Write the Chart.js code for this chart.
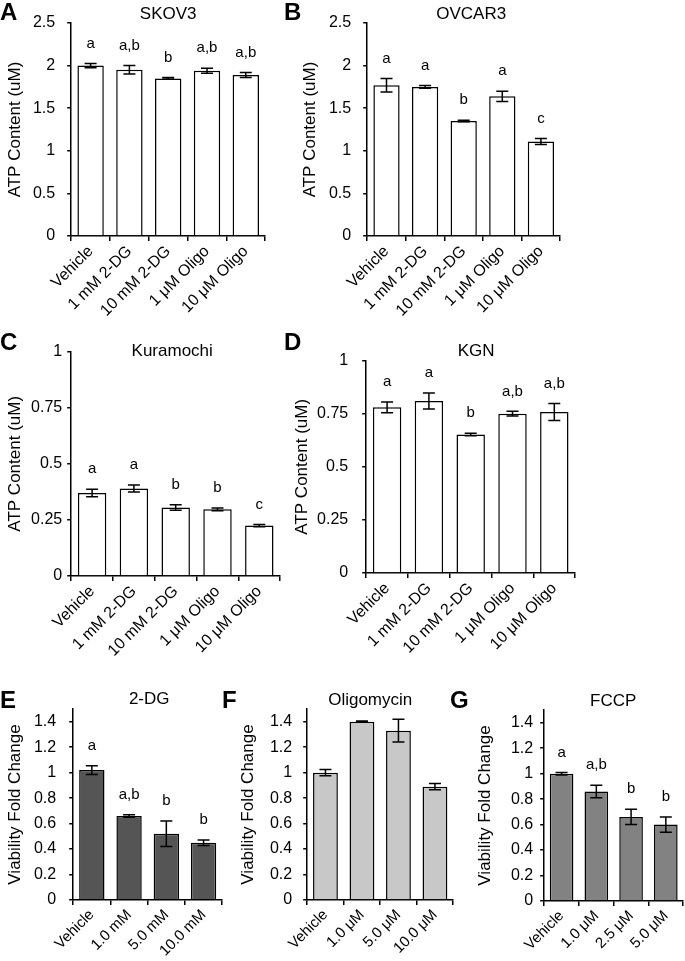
<!DOCTYPE html>
<html>
<head>
<meta charset="utf-8">
<script src="https://cdn.jsdelivr.net/npm/chart.js@4.4.1/dist/chart.umd.min.js"></script>
<style>
body { margin: 0; background: #fff; width: 685px; height: 961px; position: relative; overflow: hidden; font-family: "Liberation Sans", Arial, sans-serif; }
.panel { position: absolute; }
.tag { position: absolute; font-weight: bold; font-size: 24px; line-height: 1; color: #000; }
</style>
</head>
<body>
<div class="panel" id="pA"><canvas id="cA"></canvas></div>
<div class="panel" id="pB"><canvas id="cB"></canvas></div>
<div class="panel" id="pC"><canvas id="cC"></canvas></div>
<div class="panel" id="pD"><canvas id="cD"></canvas></div>
<div class="panel" id="pE"><canvas id="cE"></canvas></div>
<div class="panel" id="pF"><canvas id="cF"></canvas></div>
<div class="panel" id="pG"><canvas id="cG"></canvas></div>
<div class="tag" style="left:0px;top:0px">A</div>
<div class="tag" style="left:284px;top:0px">B</div>
<div class="tag" style="left:0px;top:330px">C</div>
<div class="tag" style="left:284px;top:330px">D</div>
<div class="tag" style="left:0px;top:688px">E</div>
<div class="tag" style="left:222px;top:688px">F</div>
<div class="tag" style="left:450px;top:688px">G</div>
<script>
// ATP content panels (A-D)
const atpLabels = ['Vehicle', '1 mM 2-DG', '10 mM 2-DG', '1 μM Oligo', '10 μM Oligo'];
const atpTicksHigh = [0, 0.5, 1, 1.5, 2, 2.5];
const atpTicksLow = [0, 0.25, 0.5, 0.75, 1];

const skov3Values = [2.00, 1.95, 1.85, 1.94, 1.89];
const skov3Errors = [0.025, 0.05, 0.01, 0.03, 0.03];
const skov3Letters = ['a', 'a,b', 'b', 'a,b', 'a,b'];

const ovcar3Values = [1.77, 1.75, 1.35, 1.64, 1.11];
const ovcar3Errors = [0.08, 0.015, 0.01, 0.06, 0.035];
const ovcar3Letters = ['a', 'a', 'b', 'a', 'c'];

const kuraValues = [0.37, 0.39, 0.305, 0.297, 0.225];
const kuraErrors = [0.017, 0.016, 0.012, 0.006, 0.005];
const kuraLetters = ['a', 'a', 'b', 'b', 'c'];

const kgnValues = [0.78, 0.81, 0.652, 0.75, 0.758];
const kgnErrors = [0.025, 0.038, 0.006, 0.011, 0.04];
const kgnLetters = ['a', 'a', 'b', 'a,b', 'a,b'];

// viability panels (E-G)
const viaTicks = [0, 0.2, 0.4, 0.6, 0.8, 1, 1.2, 1.4];

const dgLabels = ['Vehicle', '1.0 mM', '5.0 mM', '10.0 mM'];
const dgValues = [1.02, 0.66, 0.52, 0.45];
const dgErrors = [0.035, 0.01, 0.1, 0.022];
const dgLetters = ['a', 'a,b', 'b', 'b'];

const oligoLabels = ['Vehicle', '1.0 μM', '5.0 μM', '10.0 μM'];
const oligoValues = [1.0, 1.40, 1.33, 0.89];
const oligoErrors = [0.025, 0.005, 0.09, 0.025];
const oligoLetters = ['', '', '', ''];

const fccpLabels = ['Vehicle', '1.0 μM', '2.5 μM', '5.0 μM'];
const fccpValues = [1.0, 0.86, 0.66, 0.60];
const fccpErrors = [0.01, 0.05, 0.06, 0.06];
const fccpLetters = ['a', 'a,b', 'b', 'b'];

Chart.defaults.font.family = '"Liberation Sans", Arial, sans-serif';
Chart.defaults.color = '#000';

// error bars + significance letters, drawn with the chart's own scales
const errorBars = {
  id: 'errorBars',
  afterDatasetsDraw(chart, args, opts) {
    const ctx = chart.ctx;
    const y = chart.scales.y;
    const meta = chart.getDatasetMeta(0);
    ctx.save();
    ctx.strokeStyle = '#000';
    ctx.lineWidth = 1.5;
    meta.data.forEach((bar, i) => {
      const v = opts.values[i], e = opts.errors[i];
      const top = y.getPixelForValue(v + e);
      const bot = y.getPixelForValue(v - e);
      ctx.beginPath();
      ctx.moveTo(bar.x, top); ctx.lineTo(bar.x, bot);
      ctx.moveTo(bar.x - 6, top); ctx.lineTo(bar.x + 6, top);
      ctx.moveTo(bar.x - 6, bot); ctx.lineTo(bar.x + 6, bot);
      ctx.stroke();
      if (opts.letters[i]) {
        ctx.fillStyle = '#000';
        ctx.font = '15px "Liberation Sans", Arial, sans-serif';
        ctx.textAlign = 'center';
        ctx.textBaseline = 'middle';
        ctx.fillText(opts.letters[i], bar.x, top - 20);
      }
    });
    ctx.restore();
  }
};

const panelTitle = {
  id: 'panelTitle',
  afterDraw(chart, args, opts) {
    const ctx = chart.ctx;
    ctx.save();
    ctx.fillStyle = '#000';
    ctx.font = '17px "Liberation Sans", Arial, sans-serif';
    ctx.textAlign = 'center';
    ctx.textBaseline = 'middle';
    ctx.fillText(opts.text, opts.x, opts.y);
    ctx.restore();
  }
};

function makePanel(p) {
  const yW = p.left - p.yTitleX + 10.2;
  const divLeft = p.left - yW;
  const divTop = p.titleY - 14;
  const padTop = p.top - divTop;
  const xH = 100;
  const div = document.getElementById(p.div);
  div.style.left = divLeft + 'px';
  div.style.top = divTop + 'px';
  div.style.width = (p.right - divLeft + 1) + 'px';
  div.style.height = (padTop + (p.bottom - p.top) + xH) + 'px';

  new Chart(document.getElementById(p.canvas), {
    type: 'bar',
    data: {
      labels: p.labels,
      datasets: [{
        data: p.values,
        backgroundColor: p.color,
        borderColor: '#000',
        borderWidth: 1.5,
        barPercentage: 0.68,
        categoryPercentage: 1
      }]
    },
    options: {
      responsive: true,
      maintainAspectRatio: false,
      animation: false,
      layout: { padding: { top: padTop, right: 1, left: 0, bottom: 0 } },
      plugins: {
        legend: { display: false },
        tooltip: { enabled: false },
        errorBars: { values: p.values, errors: p.errors, letters: p.letters },
        panelTitle: { text: p.title, x: p.titleX - divLeft, y: p.titleY - divTop }
      },
      scales: {
        x: {
          grid: { offset: true, drawOnChartArea: false, drawTicks: true, tickLength: 5, color: '#000', lineWidth: 1.5 },
          border: { display: true, color: '#000', width: 1.5 },
          ticks: { maxRotation: 45, minRotation: 45, autoSkip: false, font: { size: p.xFont }, color: '#000', padding: 1 },
          afterFit(s) { s.height = xH; s.paddingLeft = 0; s.paddingRight = 0; }
        },
        y: {
          min: 0,
          max: p.yMax,
          ticks: {
            font: { size: 16 },
            color: '#000',
            padding: p.tickPad,
            callback: v => String(+v.toFixed(2))
          },
          afterBuildTicks(s) { s.ticks = p.yTicks.map(v => ({ value: v })); },
          grid: { drawOnChartArea: false, drawTicks: true, tickLength: 4, color: '#000', lineWidth: 1.5 },
          border: { display: true, color: '#000', width: 1.5 },
          title: { display: true, text: p.yTitle, font: { size: 17 }, color: '#000', padding: 0 },
          afterFit(s) { s.width = yW; }
        }
      }
    },
    plugins: [errorBars, panelTitle]
  });
}

const atpTitle = 'ATP Content (uM)';
const viaTitle = 'Viability Fold Change';

makePanel({ div: 'pA', canvas: 'cA', left: 71, right: 265, top: 23, bottom: 236, yTitleX: 15, titleX: 168, titleY: 14, tickPad: 12, xFont: 16,
  yMax: 2.5, yTicks: atpTicksHigh, color: '#fff', labels: atpLabels, values: skov3Values, errors: skov3Errors, letters: skov3Letters, title: 'SKOV3', yTitle: atpTitle });
makePanel({ div: 'pB', canvas: 'cB', left: 367, right: 560, top: 23, bottom: 236, yTitleX: 310, titleX: 471, titleY: 14, tickPad: 12, xFont: 16,
  yMax: 2.5, yTicks: atpTicksHigh, color: '#fff', labels: atpLabels, values: ovcar3Values, errors: ovcar3Errors, letters: ovcar3Letters, title: 'OVCAR3', yTitle: atpTitle });
makePanel({ div: 'pC', canvas: 'cC', left: 71, right: 280, top: 349, bottom: 576, yTitleX: 15, titleX: 172, titleY: 351, tickPad: 5, xFont: 16,
  yMax: 1, yTicks: atpTicksLow, color: '#fff', labels: atpLabels, values: kuraValues, errors: kuraErrors, letters: kuraLetters, title: 'Kuramochi', yTitle: atpTitle });
makePanel({ div: 'pD', canvas: 'cD', left: 366, right: 575, top: 349, bottom: 573, yTitleX: 302, titleX: 476, titleY: 351, tickPad: 14, xFont: 16,
  yMax: 1, yTicks: atpTicksLow, color: '#fff', labels: atpLabels, values: kgnValues, errors: kgnErrors, letters: kgnLetters, title: 'KGN', yTitle: atpTitle });
makePanel({ div: 'pE', canvas: 'cE', left: 73, right: 222, top: 709, bottom: 900, yTitleX: 15, titleX: 149, titleY: 699, tickPad: 13, xFont: 15,
  yMax: 1.5, yTicks: viaTicks, color: '#555555', labels: dgLabels, values: dgValues, errors: dgErrors, letters: dgLetters, title: '2-DG', yTitle: viaTitle });
makePanel({ div: 'pF', canvas: 'cF', left: 307, right: 453, top: 709, bottom: 900, yTitleX: 248, titleX: 370, titleY: 700, tickPad: 11, xFont: 15,
  yMax: 1.5, yTicks: viaTicks, color: '#c8c8c8', labels: oligoLabels, values: oligoValues, errors: oligoErrors, letters: oligoLetters, title: 'Oligomycin', yTitle: viaTitle });
makePanel({ div: 'pG', canvas: 'cG', left: 544, right: 683, top: 710, bottom: 901, yTitleX: 485, titleX: 613, titleY: 701, tickPad: 7, xFont: 15,
  yMax: 1.5, yTicks: viaTicks, color: '#828282', labels: fccpLabels, values: fccpValues, errors: fccpErrors, letters: fccpLetters, title: 'FCCP', yTitle: viaTitle });
</script>
</body>
</html>
